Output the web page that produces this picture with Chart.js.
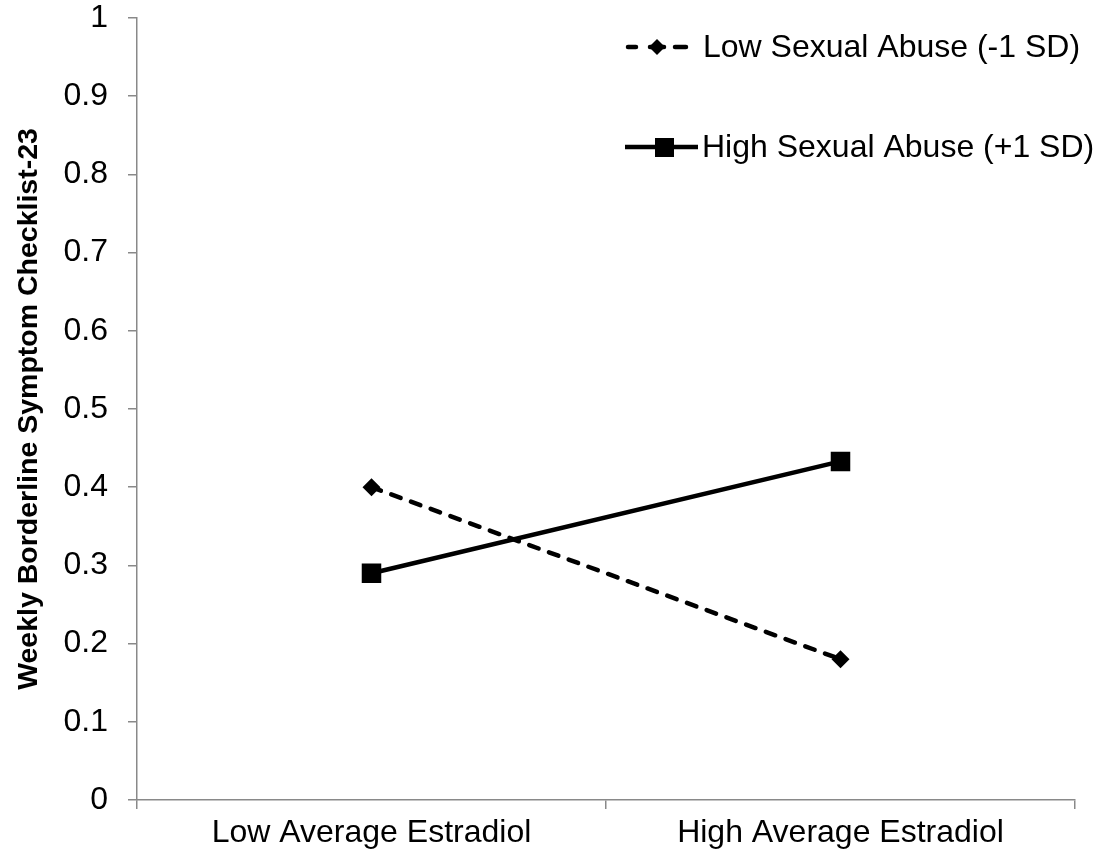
<!DOCTYPE html>
<html><head><meta charset="utf-8">
<script src="https://cdn.jsdelivr.net/npm/chart.js@4.4.1/dist/chart.umd.min.js"></script>
<style>html,body{margin:0;padding:0;background:#fff}#wrap{width:1102px;height:862px}</style>
</head><body><div id="wrap"><canvas id="c" width="1102" height="862"></canvas></div>
<script>
const categories = ["Low Average Estradiol", "High Average Estradiol"];
const lowAbuse = [0.40, 0.18];
const highAbuse = [0.29, 0.433];
const seriesNames = ["Low Sexual Abuse (-1 SD)", "High Sexual Abuse (+1 SD)"];
const yTickLabels = ["0","0.1","0.2","0.3","0.4","0.5","0.6","0.7","0.8","0.9","1"];
const yTitle = "Weekly Borderline Symptom Checklist-23";

const FONT = "'Liberation Sans', Arial, sans-serif";

const legendPlugin = {
  id: 'customLegend',
  afterDraw(chart) {
    const ctx = chart.ctx;
    ctx.save();
    ctx.fillStyle = '#000';
    ctx.strokeStyle = '#000';
    ctx.font = "32px " + FONT;
    ctx.textBaseline = 'middle';
    // item 1 dashed + diamond
    let y = 47;
    ctx.lineWidth = 4.5;
    ctx.lineCap = 'round';
    ctx.beginPath(); ctx.moveTo(628, y); ctx.lineTo(636, y); ctx.moveTo(675, y); ctx.lineTo(686, y); ctx.stroke();
    ctx.beginPath(); ctx.moveTo(650, y); ctx.lineTo(664, y); ctx.stroke();
    ctx.beginPath(); ctx.moveTo(657, y-8); ctx.lineTo(665, y); ctx.lineTo(657, y+8); ctx.lineTo(649, y); ctx.closePath(); ctx.fill();
    ctx.fillText(chart.data.datasets[0].label, 703, y+1);
    // item 2 solid + square
    y = 147;
    ctx.lineCap = 'butt';
    ctx.beginPath(); ctx.moveTo(625, y); ctx.lineTo(698, y); ctx.stroke();
    ctx.fillRect(655, y-9, 19, 19);
    ctx.fillText(chart.data.datasets[1].label, 702, y+1);
    ctx.restore();
  }
};

new Chart(document.getElementById('c'), {
  type: 'line',
  data: {
    labels: categories,
    datasets: [
      { label: seriesNames[0], data: lowAbuse, borderColor: '#000', backgroundColor: '#000',
        borderWidth: 4.5, borderDash: [10, 11], borderCapStyle: 'round', pointStyle: 'rectRot', pointRadius: 9,
        pointBorderWidth: 0, tension: 0 },
      { label: seriesNames[1], data: highAbuse, borderColor: '#000', backgroundColor: '#000',
        borderWidth: 4.5, pointStyle: 'rect', pointRadius: 13.8, pointBorderWidth: 0, tension: 0 }
    ]
  },
  options: {
    responsive: false,
    animation: false,
    layout: { padding: { top: 18, right: 27, left: 0, bottom: 0 } },
    plugins: { legend: { display: false }, tooltip: { enabled: false } },
    scales: {
      x: {
        offset: true,
        grid: { offset: true, drawOnChartArea: false, drawTicks: true, tickLength: 9, color: '#898989', lineWidth: 1.5 },
        border: { color: '#898989', width: 1.5 },
        ticks: { color: '#000', font: { family: FONT, size: 32 }, padding: 5, maxRotation: 0 },
        afterFit(s) { s.height = 62; s.paddingLeft = 0; s.paddingRight = 0; }
      },
      y: {
        min: 0, max: 1,
        ticks: { stepSize: 0.1, color: '#000', font: { family: FONT, size: 32 }, padding: 20,
          callback: (v, i) => yTickLabels[i] },
        grid: { drawOnChartArea: false, drawTicks: true, tickLength: 9, color: '#898989', lineWidth: 1.5 },
        border: { color: '#898989', width: 1.5 },
        title: { display: true, text: yTitle, color: '#000', font: { family: FONT, size: 28.5, weight: 'bold' }, padding: { top: 12, bottom: 0 } },
        afterFit(s) { s.width = 137; s.paddingTop = 0; s.paddingBottom = 0; }
      }
    }
  },
  plugins: [legendPlugin]
});
</script></body></html>
